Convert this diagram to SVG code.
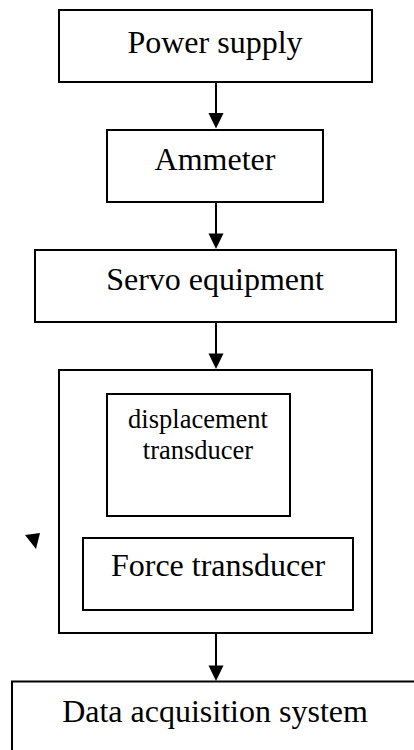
<svg xmlns="http://www.w3.org/2000/svg" width="414" height="750" viewBox="0 0 414 750">
  <style>
    .box { fill: #fff; stroke: #000; stroke-width: 2; }
    .lbl { font-family: "Liberation Serif", "Times New Roman", serif; font-size: 32px; fill: #000; text-anchor: middle; }
    .sm { font-size: 26.5px; }
    .wire { stroke: #000; stroke-width: 2; fill: none; }
    .head { fill: #000; }
  </style>
  <rect width="414" height="750" fill="#fff"/>

  <g id="power-supply">
    <rect class="box" x="59" y="10" width="313" height="72"/>
    <text class="lbl" x="215" y="53">Power supply</text>
  </g>
  <g id="ammeter">
    <rect class="box" x="107" y="130" width="216" height="72"/>
    <text class="lbl" x="215" y="170">Ammeter</text>
  </g>
  <g id="servo-equipment">
    <rect class="box" x="35" y="250" width="361" height="72"/>
    <text class="lbl" x="215" y="290">Servo equipment</text>
  </g>
  <g id="test-rig">
    <rect class="box" x="59" y="370" width="313" height="263"/>
  </g>
  <g id="displacement-transducer">
    <rect class="box" x="107" y="394" width="183" height="122"/>
    <text class="lbl sm" x="198" y="428">displacement</text>
    <text class="lbl sm" x="198" y="459">transducer</text>
  </g>
  <g id="force-transducer">
    <rect class="box" x="83" y="538" width="270" height="72"/>
    <text class="lbl" x="218" y="576">Force transducer</text>
  </g>
  <g id="data-acquisition">
    <rect class="box" x="12" y="681.5" width="420" height="90"/>
    <text class="lbl" x="215" y="722">Data acquisition system</text>
  </g>

  <g id="connectors">
    <line class="wire" x1="216" y1="82" x2="216" y2="116"/>
    <polygon class="head" points="208.5,113 223.5,113 216,128.5"/>
    <line class="wire" x1="216" y1="202" x2="216" y2="236"/>
    <polygon class="head" points="208.5,233.5 223.5,233.5 216,249"/>
    <line class="wire" x1="216" y1="322" x2="216" y2="356"/>
    <polygon class="head" points="208.5,353.5 223.5,353.5 216,369"/>
    <line class="wire" x1="216" y1="633" x2="216" y2="668"/>
    <polygon class="head" points="208.5,665.5 223.5,665.5 216,681"/>
    <polygon class="head" points="25,535 40,533 36,549"/>
  </g>
</svg>
